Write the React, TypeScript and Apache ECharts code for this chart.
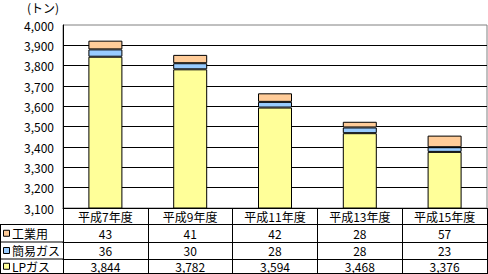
import React, { useEffect, useRef } from "react";
import * as echarts from "echarts";

const categories = ["平成7年度", "平成9年度", "平成11年度", "平成13年度", "平成15年度"];
const seriesNames = ["LPガス", "簡易ガス", "工業用"];
const lpGas = [3844, 3782, 3594, 3468, 3376];
const simpleGas = [36, 30, 28, 28, 23];
const industrial = [43, 41, 42, 28, 57];
const seriesColors = ["#FFFF99", "#99CCFF", "#FFCC99"];
const yMin = 3100;
const yMax = 4000;
const yInterval = 100;
const unitLabel = "(トン)";

const FONT = "'Noto Sans CJK JP', 'Noto Sans', sans-serif";

export default function App() {
  const ref = useRef<HTMLDivElement>(null);
  useEffect(() => {
    if (!ref.current) return;
    const chart = echarts.init(ref.current, undefined, { renderer: "svg" });
    const values = [lpGas, simpleGas, industrial];
    const fmt = (v: number) => v.toLocaleString("en-US");
    // table rows top to bottom: reverse of stacking order
    const rowOrder = [2, 1, 0];
    const gridLeft = 63;
    const gridRight = 487;
    const gridBottomY = 208;
    const rowOffsets = [16.5, 34, 51];
    const rowMargins = [2.5, 2.5, 1.5];
    const tableBottom = 273.5;

    const xAxes: any[] = [
      {
        type: "category",
        data: categories,
        position: "bottom",
        gridIndex: 0,
        axisLine: { show: true, lineStyle: { color: "#000", width: 1 } },
        axisTick: {
          show: true,
          interval: 0,
          alignWithLabel: false,
          inside: false,
          length: 66,
          lineStyle: { color: "#000", width: 1 },
        },
        axisLabel: {
          color: "#000",
          fontSize: 12,
          lineHeight: 12,
          fontFamily: FONT,
          margin: 2,
          interval: 0,
        },
        splitLine: { show: false },
      },
    ];
    rowOrder.forEach((si, r) => {
      xAxes.push({
        type: "category",
        data: categories,
        position: "bottom",
        gridIndex: 0,
        offset: rowOffsets[r],
        axisLine: { show: true, lineStyle: { color: "#000", width: 1 } },
        axisTick: { show: false },
        axisLabel: {
          color: "#000",
          fontSize: 12,
          lineHeight: 12,
          fontFamily: FONT,
          margin: rowMargins[r],
          interval: 0,
          formatter: (_v: string, idx: number) => fmt(values[si][idx]),
        },
        splitLine: { show: false },
      });
    });

    const graphics: any[] = [
      {
        type: "text",
        x: 27,
        y: 7,
        style: {
          text: unitLabel,
          fill: "#000",
          fontSize: 12,
          lineHeight: 12,
          fontFamily: FONT,
          verticalAlign: "middle",
          align: "left",
        },
      },
      {
        type: "line",
        shape: { x1: 0, y1: tableBottom, x2: gridRight, y2: tableBottom },
        style: { stroke: "#000", lineWidth: 1 },
      },
      {
        type: "line",
        shape: { x1: 0.5, y1: gridBottomY + rowOffsets[0], x2: 0.5, y2: tableBottom },
        style: { stroke: "#000", lineWidth: 1 },
      },
    ];
    rowOrder.forEach((si, r) => {
      const y = gridBottomY + rowOffsets[r];
      const nextY = r < rowOrder.length - 1 ? gridBottomY + rowOffsets[r + 1] : tableBottom;
      const cy = (y + nextY) / 2;
      graphics.push({
        type: "line",
        shape: { x1: 0, y1: y, x2: gridLeft, y2: y },
        style: { stroke: "#000", lineWidth: 1 },
      });
      graphics.push({
        type: "rect",
        shape: { x: 3.5, y: cy - 3, width: 6, height: 6 },
        style: { fill: seriesColors[si], stroke: "#000", lineWidth: 1 },
      });
      graphics.push({
        type: "text",
        x: 12,
        y: cy,
        style: {
          text: seriesNames[si],
          fill: "#000",
          fontSize: 12,
          lineHeight: 12,
          fontFamily: FONT,
          verticalAlign: "middle",
          align: "left",
        },
      });
    });

    chart.setOption({
      animation: false,
      grid: {
        left: gridLeft,
        right: 488 - gridRight,
        top: 25,
        bottom: 274 - gridBottomY,
        show: true,
        borderColor: "#808080",
        borderWidth: 1,
        backgroundColor: "transparent",
      },
      xAxis: xAxes,
      yAxis: {
        type: "value",
        min: yMin,
        max: yMax,
        interval: yInterval,
        axisLine: { show: true, lineStyle: { color: "#000", width: 1 } },
        axisTick: { show: false },
        axisLabel: {
          color: "#000",
          fontSize: 12,
          lineHeight: 12,
          fontFamily: FONT,
          margin: 9,
          formatter: (v: number) => fmt(v),
        },
        splitLine: {
          show: true,
          showMaxLine: false,
          showMinLine: false,
          lineStyle: { color: "#000", width: 1 },
        },
      },
      series: values.map((d, i) => ({
        name: seriesNames[i],
        type: "bar",
        stack: "total",
        xAxisIndex: 0,
        barWidth: 34,
        data: d,
        itemStyle: { color: seriesColors[i], borderColor: "#000", borderWidth: 1 },
      })),
      graphic: graphics,
    });
    return () => chart.dispose();
  }, []);
  return <div ref={ref} style={{ width: 488, height: 274, position: "absolute", left: 0, top: 0 }} />;
}
